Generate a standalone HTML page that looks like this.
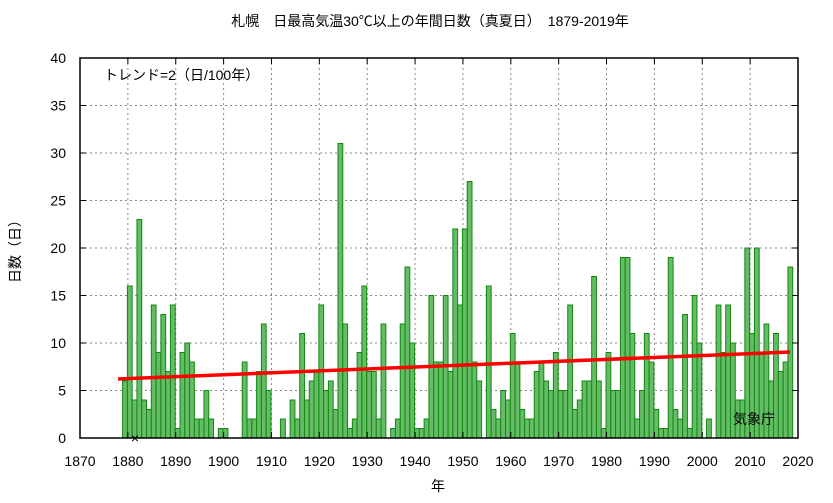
<!DOCTYPE html>
<html><head><meta charset="utf-8"><style>
body{margin:0;background:#fff}
svg text{font-family:"Liberation Sans","Noto Sans CJK JP",sans-serif;font-size:14px;fill:#000}
</style></head><body>
<svg id="s" width="833" height="498" xmlns="http://www.w3.org/2000/svg">
<rect width="833" height="498" fill="#fff"/>
<text x="430" y="26" text-anchor="middle" font-size="16">札幌　日最高気温30℃以上の年間日数（真夏日）　1879-2019年</text>
<g id="grid"></g>
<g id="bars"></g>
<line x1="118" y1="379" x2="790" y2="352" stroke="#ff0000" stroke-width="3.5"/>
<rect x="80" y="58" width="718" height="380" fill="none" stroke="#000" stroke-width="1.5"/>
<g id="ticks"></g>
<text x="104" y="80">トレンド=2（日/100年）</text>
<text x="733" y="424" font-size="15">気象庁</text>
<text x="135" y="443" text-anchor="middle" font-size="15">×</text>
<text x="438" y="491" text-anchor="middle">年</text>
<text transform="translate(20,248) rotate(-90)" text-anchor="middle">日数（日）</text>
</svg>
<script>
const d=[6,16,4,23,4,3,14,9,13,7,14,1,9,10,8,2,2,5,2,0,1,1,0,0,0,8,2,2,7,12,5,0,0,2,0,4,2,11,4,6,7,14,5,6,3,31,12,1,2,9,16,7,7,2,12,0,1,2,12,18,10,1,1,2,15,8,8,15,7,22,14,22,27,8,6,0,16,3,2,5,4,11,8,3,2,2,7,8,6,5,9,5,5,14,3,4,6,6,17,6,1,9,5,5,19,19,11,2,5,11,8,3,1,1,19,3,2,13,1,15,10,0,2,0,14,9,14,10,4,4,20,11,20,9,12,6,11,7,8,18];
const NS="http://www.w3.org/2000/svg";
const X=y=>80+(y-1870)*718/150, Y=v=>438-v*9.5;
function el(t,a,p){const e=document.createElementNS(NS,t);for(const k in a)e.setAttribute(k,a[k]);document.getElementById(p).appendChild(e);return e}
for(let y=1880;y<2020;y+=10)el('line',{x1:X(y),x2:X(y),y1:58,y2:438,stroke:'#888','stroke-dasharray':'2,3'},'grid');
for(let v=5;v<40;v+=5)el('line',{x1:80,x2:798,y1:Y(v),y2:Y(v),stroke:'#888','stroke-dasharray':'2,3'},'grid');
const w=718/150;
d.forEach((v,i)=>{if(v>0)el('rect',{x:X(1879+i)-0.5,y:Y(v),width:w,height:v*9.5,fill:'#66bb66',stroke:'#118811','stroke-width':1},'bars')});
for(let y=1870;y<=2020;y+=10){el('line',{x1:X(y),x2:X(y),y1:438,y2:432,stroke:'#000'},'ticks');el('line',{x1:X(y),x2:X(y),y1:58,y2:64,stroke:'#000'},'ticks');const t=el('text',{x:X(y),y:466,'text-anchor':'middle'},'ticks');t.textContent=y}
for(let v=0;v<=40;v+=5){el('line',{x1:80,x2:86,y1:Y(v),y2:Y(v),stroke:'#000'},'ticks');el('line',{x1:792,x2:798,y1:Y(v),y2:Y(v),stroke:'#000'},'ticks');const t=el('text',{x:66,y:Y(v)+5,'text-anchor':'end'},'ticks');t.textContent=v}
</script>
</body></html>
